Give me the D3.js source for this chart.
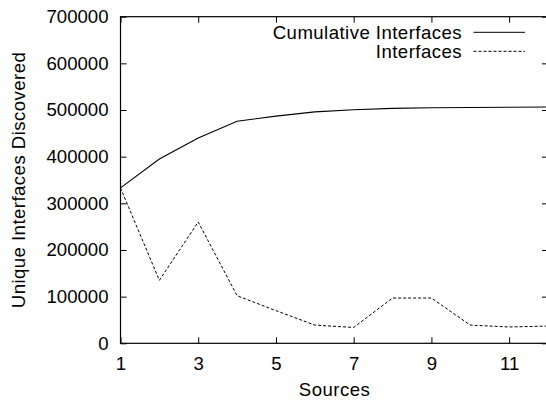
<!DOCTYPE html>
<html>
<head>
<meta charset="utf-8">
<script src="https://cdn.jsdelivr.net/npm/d3@7/dist/d3.min.js"></script>
<style>
  html, body { margin: 0; padding: 0; background: #fff; }
  svg { display: block; }
  text { font-family: "Liberation Sans", Arial, Helvetica, sans-serif; fill: #000; }
  .label { letter-spacing: 0.45px; }
</style>
</head>
<body>
<svg id="chart" width="546" height="400"></svg>
<script>
// Number of sources combined (x) and interfaces discovered (y)
const sources = [1, 2, 3, 4, 5, 6, 7, 8, 9, 10, 11, 12];
const cumulativeInterfaces = [333000, 395000, 440000, 476000, 487000, 496000, 500500, 503500, 505000, 505500, 506000, 506500];
const interfaces = [333000, 135000, 260000, 102000, 70000, 39000, 34000, 97000, 97000, 39000, 35000, 37000];
const xTicks = [1, 3, 5, 7, 9, 11];
const yTicks = [0, 100000, 200000, 300000, 400000, 500000, 600000, 700000];
const seriesNames = ["Cumulative Interfaces", "Interfaces"];

const svg = d3.select("#chart");
const plotLeft = 120.5, plotRight = 548, plotTop = 16.7, plotBottom = 343.3;
const fontSize = 18.6;

const x = d3.scaleLinear().domain([1, 12]).range([plotLeft, plotRight]);
const y = d3.scaleLinear().domain([0, 700000]).range([plotBottom, plotTop]);

const tickLen = 6;

// Bottom axis: ticks point inward, labels below
const xAxis = d3.axisBottom(x).tickValues(xTicks).tickSize(-tickLen).tickPadding(14).tickFormat(d3.format("d"));
const gx = svg.append("g").attr("transform", `translate(0,${plotBottom})`).call(xAxis);
gx.select(".domain").remove();
gx.selectAll("line").attr("stroke", "#000");
gx.selectAll("text").attr("font-size", fontSize).attr("dy", "0.71em").attr("y", 13);

// Top mirror ticks
const gxTop = svg.append("g").attr("transform", `translate(0,${plotTop})`)
  .call(d3.axisTop(x).tickValues(xTicks).tickSize(-tickLen).tickFormat(""));
gxTop.select(".domain").remove();
gxTop.selectAll("line").attr("stroke", "#000");

// Left axis
const yAxis = d3.axisLeft(y).tickValues(yTicks).tickSize(-tickLen).tickPadding(12).tickFormat(d3.format("d"));
const gy = svg.append("g").attr("transform", `translate(${plotLeft},0)`).call(yAxis);
gy.select(".domain").remove();
gy.selectAll("line").attr("stroke", "#000");
gy.selectAll("text").attr("font-size", fontSize).attr("x", -12);

// Right mirror ticks
const gyRight = svg.append("g").attr("transform", `translate(${plotRight},0)`)
  .call(d3.axisRight(y).tickValues(yTicks).tickSize(-tickLen).tickFormat(""));
gyRight.select(".domain").remove();
gyRight.selectAll("line").attr("stroke", "#000");

// Plot frame
svg.append("rect")
  .attr("x", plotLeft).attr("y", plotTop)
  .attr("width", plotRight - plotLeft).attr("height", plotBottom - plotTop)
  .attr("fill", "none").attr("stroke", "#000").attr("stroke-width", 1.2);

// Series lines
const line = d3.line().x((d, i) => x(sources[i])).y(d => y(d));

svg.append("path").datum(cumulativeInterfaces)
  .attr("d", line).attr("fill", "none").attr("stroke", "#000").attr("stroke-width", 1.1);

svg.append("path").datum(interfaces)
  .attr("d", line).attr("fill", "none").attr("stroke", "#000").attr("stroke-width", 1)
  .attr("stroke-dasharray", "3,2");

// Legend
const legendRows = [
  { name: seriesNames[0], dash: null, ty: 38.5, ly: 32.3 },
  { name: seriesNames[1], dash: "3,2", ty: 58.3, ly: 51.3 }
];
legendRows.forEach(r => {
  svg.append("text").attr("class", "label").attr("x", 462).attr("y", r.ty)
    .attr("text-anchor", "end").attr("font-size", fontSize).text(r.name);
  svg.append("line").attr("x1", 473.5).attr("x2", 525).attr("y1", r.ly).attr("y2", r.ly)
    .attr("stroke", "#000").attr("stroke-width", 1)
    .attr("stroke-dasharray", r.dash);
});

// Axis titles
svg.append("text").attr("class", "label").attr("x", 334.5).attr("y", 396)
  .attr("text-anchor", "middle").attr("font-size", fontSize).text("Sources");

svg.append("text").attr("class", "label")
  .attr("transform", `translate(25,180) rotate(-90)`)
  .attr("text-anchor", "middle").attr("font-size", fontSize)
  .text("Unique Interfaces Discovered");
</script>
</body>
</html>
